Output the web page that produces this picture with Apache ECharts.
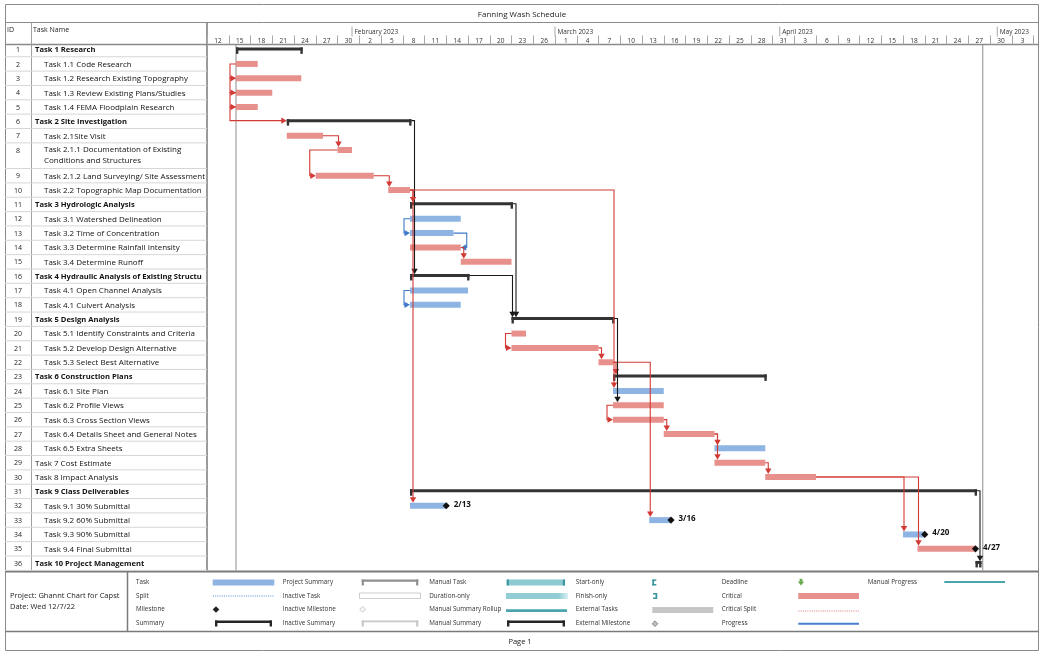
<!DOCTYPE html>
<html><head><meta charset="utf-8">
<script src="https://cdn.jsdelivr.net/npm/echarts@6.0.0/dist/echarts.min.js"></script>
<style>html,body{margin:0;padding:0;background:#fff}#c{width:1044px;height:656px}</style>
</head><body><div id="c"></div>
<script>
// ---------------- DATA ----------------
const ids = [1,2,3,4,5,6,7,8,9,10,11,12,13,14,15,16,17,18,19,20,21,22,23,24,25,26,27,28,29,30,31,32,33,34,35,36];
const taskNames = [
  'Task 1 Research','Task 1.1 Code Research','Task 1.2 Research Existing Topography',
  'Task 1.3 Review Existing Plans/Studies','Task 1.4 FEMA Floodplain Research',
  'Task 2 Site Investigation','Task 2.1Site Visit',
  'Task 2.1.1 Documentation of Existing Conditions and Structures',
  'Task 2.1.2 Land Surveying/ Site Assessment','Task 2.2 Topographic Map Documentation',
  'Task 3 Hydrologic Analysis','Task 3.1 Watershed Delineation','Task 3.2 Time of Concentration',
  'Task 3.3 Determine Rainfall Intensity','Task 3.4 Determine Runoff',
  'Task 4 Hydraulic Analysis of Existing Structures','Task 4.1 Open Channel Analysis','Task 4.1 Culvert Analysis',
  'Task 5 Design Analysis','Task 5.1 Identify Constraints and Criteria','Task 5.2 Develop Design Alternative',
  'Task 5.3 Select Best Alternative','Task 6 Construction Plans','Task 6.1 Site Plan','Task 6.2 Profile Views',
  'Task 6.3 Cross Section Views','Task 6.4 Details Sheet and General Notes','Task 6.5 Extra Sheets',
  'Task 7 Cost Estimate','Task 8 Impact Analysis','Task 9 Class Deliverables','Task 9.1 30% Submittal',
  'Task 9.2 60% Submittal','Task 9.3 90% Submittal','Task 9.4 Final Submittal','Task 10 Project Management'
];
const outlineLevels = [1,2,2,2,2,1,2,2,2,2,1,2,2,2,2,1,2,2,1,2,2,2,1,2,2,2,2,2,1,1,1,2,2,2,2,1];
// S = summary, C = critical task, T = task
const taskTypes = ['S','C','C','C','C','S','C','C','C','C','S','T','T','C','C','S','T','T','S','C','C','C','S','T','C','C','C','T','C','C','S','T','T','T','C','S'];
const taskStarts = ['2023-01-16','2023-01-16','2023-01-16','2023-01-16','2023-01-16','2023-01-23','2023-01-23','2023-01-30','2023-01-27','2023-02-06',
  '2023-02-09','2023-02-09','2023-02-09','2023-02-09','2023-02-16','2023-02-09','2023-02-09','2023-02-09','2023-02-23','2023-02-23',
  '2023-02-23','2023-03-07','2023-03-09','2023-03-09','2023-03-09','2023-03-09','2023-03-16','2023-03-23','2023-03-23','2023-03-30',
  '2023-02-09','2023-02-09','2023-03-14','2023-04-18','2023-04-20','2023-04-28'];
const taskEnds = ['2023-01-25','2023-01-19','2023-01-25','2023-01-21','2023-01-19','2023-02-09','2023-01-28','2023-02-01','2023-02-04','2023-02-09',
  '2023-02-23','2023-02-16','2023-02-15','2023-02-16','2023-02-23','2023-02-17','2023-02-17','2023-02-16','2023-03-09','2023-02-25',
  '2023-03-07','2023-03-09','2023-03-30','2023-03-16','2023-03-16','2023-03-16','2023-03-23','2023-03-30','2023-03-30','2023-04-06',
  '2023-04-28','2023-02-14','2023-03-17','2023-04-21','2023-04-28','2023-04-28'];
const milestoneLabels = ['','','','','','','','','','','','','','','','','','','','','','','','','','','','','','','','2/13','3/16','4/20','4/27',''];
// [predecessor ID, successor ID, link type]
const links = [
  [2,3,'SS'],[3,4,'SS'],[4,5,'SS'],[5,6,'SS'],
  [7,8,'FS'],[8,9,'SS'],[9,10,'FS'],
  [6,16,'FS'],[10,11,'FS'],[10,32,'FS'],[10,24,'FS'],
  [12,13,'SS'],[13,14,'FF'],[14,15,'FS'],[17,18,'SS'],
  [11,19,'FS'],[16,19,'FS'],[20,21,'SS'],[21,22,'FS'],
  [22,23,'FS'],[22,33,'FS'],[19,25,'FS'],
  [25,26,'SS'],[26,27,'FS'],[27,28,'FS'],[27,29,'FS'],[29,30,'FS'],
  [30,34,'FS'],[30,35,'FS'],[31,36,'FS']
];
const dayLabels = ['12','15','18','21','24','27','30','2','5','8','11','14','17','20','23','26','1','4','7','10','13','16','19','22','25','28','31','3','6','9','12','15','18','21','24','27','30','3'];
const monthLabels = ['February 2023','March 2023','April 2023','May 2023'];
const monthStarts = ['2023-02-01','2023-03-01','2023-04-01','2023-05-01'];
const projectLines = ['2023-01-16','2023-04-29'];
const chartTitle = 'Fanning Wash Schedule';

// ---------------- LAYOUT ----------------
const FONT = '"Open Sans", "Noto Sans", sans-serif';
const CRIT = '#e8908c', TASKBLUE = '#8db4e2', SUMC = '#333333';
const LINK_RED = '#d23a35', LINK_BLUE = '#3f79c9', LINK_BLACK = '#1a1a1a';
const GRID_TOP = 42.4, ROW_PX = 14.35, TALL_ROW = 8, TALL = 1.79;
const Y_MAX = 35 + TALL;
const TL_LEFT = 207, TL_W = 831, PX_PER_DAY = 7.25;
const X_MAX = TL_W / PX_PER_DAY;
const T0 = Date.UTC(2023, 0, 12);
function toT(s){ const p = s.split('-').map(Number); return (Date.UTC(p[0], p[1]-1, p[2]) - T0) / 864e5; }
function rowTop(n){ return (n - 1) + (n > TALL_ROW ? TALL - 1 : 0); }
function rowHeight(n){ return n === TALL_ROW ? TALL : 1; }

function geom(api, n){
  const i = n - 1, yu = rowTop(n) + 0.5;
  const s = api.coord([toT(taskStarts[i]), yu]);
  const e = api.coord([toT(taskEnds[i]), yu]);
  const sum = taskTypes[i] === 'S';
  const x1 = sum ? Math.max(e[0] + 1.5, s[0] + 6) : e[0];
  return {x0: s[0], x1: x1, y: sum ? s[1] - 0.7 : s[1], top: sum ? s[1] - 2 : s[1] - 3, sum: sum};
}

// ---------------- GRAPHIC (frame + legend) ----------------
const G = [];
function gl(x1,y1,x2,y2,stroke,w,dash){G.push({type:'line',silent:true,shape:{x1,y1,x2,y2},style:{stroke,lineWidth:w||1,lineDash:dash||null}});}
function gr(x,y,w,h,fill,stroke){G.push({type:'rect',silent:true,shape:{x,y,width:w,height:h},style:{fill,stroke:stroke||null,lineWidth:stroke?1:0}});}
function gt(x,y,text,size,opts){G.push({type:'text',silent:true,x,y,style:Object.assign({text,fontSize:size,fontFamily:FONT,fill:'#222',align:'left',verticalAlign:'middle'},opts||{})});}
function gp(points,fill,stroke){G.push({type:'polygon',silent:true,shape:{points},style:{fill,stroke:stroke||null,lineWidth:1}});}
function bracket(x0,x1,y,color,barH,capH,capW){gr(x0,y,x1-x0,barH,color);gr(x0,y,capW,capH,color);gr(x1-capW,y,capW,capH,color);}
function diamond(x,y,r,fill,stroke){gp([[x,y-r],[x+r,y],[x,y+r],[x-r,y]],fill,stroke);}

// frame
gr(5.5,4.5,1033,646,'none','#8a8a8a');
gl(5.5,22.5,1038.5,22.5,'#8a8a8a',1);
gl(5.5,44.5,1038.5,44.5,'#8a8a8a',1.5);
gl(31.5,22.5,31.5,570.5,'#a0a0a0',1);
gl(207,22.5,207,570.5,'#7a7a7a',1.5);
gl(5.5,571.5,1038.5,571.5,'#7a7a7a',1.8);
gl(5.5,631.5,1038.5,631.5,'#7a7a7a',1.5);
gl(127.5,571.5,127.5,631.5,'#7a7a7a',1.5);
gt(522,14.5,chartTitle,8,{align:'center',fill:'#222'});
gt(7,30,'ID',7);
gt(33,30,'Task Name',7);
gt(10,596,'Project: Ghannt Chart for Capst',7.5);
gt(10,607,'Date: Wed 12/7/22',7.5);
gt(520,641.5,'Page 1',7.5,{align:'center'});
// legend
const LR = [582.5,596,609.7,623.7];
const legendCols = [
  [136,['Task','Split','Milestone','Summary']],
  [282.7,['Project Summary','Inactive Task','Inactive Milestone','Inactive Summary']],
  [429.3,['Manual Task','Duration-only','Manual Summary Rollup','Manual Summary']],
  [575.7,['Start-only','Finish-only','External Tasks','External Milestone']],
  [721.7,['Deadline','Critical','Critical Split','Progress']],
  [867.7,['Manual Progress']]
];
legendCols.forEach(c => c[1].forEach((t,k) => gt(c[0],LR[k],t,6.3,{fill:'#333'})));
gr(212.7,579.5,61.6,6,TASKBLUE);
gl(213,596,274,596,'#8db4e2',1.5,[1,1.2]);
diamond(216,609.5,3.3,'#222');
bracket(215,272,620.5,'#262626',2.4,6,2.4);
bracket(361.7,418.3,579.5,'#8f8f8f',2.2,6,2.2);
gr(359.5,593,61,5.5,'#fff','#cccccc');
diamond(362.7,609.3,3,'#f4f4f4','#d0d0d0');
bracket(361.7,418.3,620.5,'#c8c8c8',1.8,6,2.2);
gr(506.7,579.5,58.3,6,'#8ccad2');gr(506.7,579.5,2.2,6,'#3c97a2');gr(562.8,579.5,2.2,6,'#3c97a2');
G.push({type:'rect',silent:true,shape:{x:506,y:593,width:62,height:6},style:{fill:{type:'linear',x:0,y:0,x2:1,y2:0,colorStops:[{offset:0,color:'#93cdd4'},{offset:0.85,color:'#93cdd4'},{offset:1,color:'#dcf1f3'}]}}});
gr(506,609.3,61,2.8,'#4aa3ad');
bracket(507,565,620.5,'#262626',2.4,6,2.4);
gr(652.3,579.5,1.8,6,'#3c97a2');gr(652.3,579.5,4,1.5,'#3c97a2');gr(652.3,584,4,1.5,'#3c97a2');
gr(655.5,593,1.8,6,'#3c97a2');gr(653,593,4,1.5,'#3c97a2');gr(653,597.5,4,1.5,'#3c97a2');
gr(652.3,607,61,6,'#c6c6c6');
diamond(655,623.7,2.8,'#bdbdbd','#8a8a8a');
gr(799.6,578.8,2.8,3,'#6aa84f');gp([[797.8,581.6],[804.2,581.6],[801,585.4]],'#6aa84f');
gr(798.3,593,60.7,6,CRIT);
gl(798.5,611,859,611,'#eaa6a2',1.5,[1,1.2]);
gl(798.3,623.7,859,623.7,'#4a7fd0',2);
gl(944.3,582,1005,582,'#4aa3ad',2);

// ---------------- CHART ----------------
const chart = echarts.init(document.getElementById('c'));
const gridH = Y_MAX * ROW_PX;
chart.setOption({
  animation: false,
  backgroundColor: '#fff',
  grid: [
    {left: TL_LEFT, top: GRID_TOP, width: TL_W, height: gridH, containLabel: false, outerBoundsMode: 'none'},
    {left: 5, top: GRID_TOP, width: 202, height: gridH, containLabel: false, outerBoundsMode: 'none'}
  ],
  xAxis: [
    {gridIndex: 0, type: 'value', position: 'top', min: 0, max: X_MAX, interval: 3, offset: -2.1,
     axisLine: {show: false}, splitLine: {show: false},
     axisTick: {show: true, length: 9, lineStyle: {color: '#a8a8a8', width: 1}},
     axisLabel: {show: true, showMinLabel: true, showMaxLabel: false, margin: 3.2, verticalAlign: 'middle',
       fontSize: 6.5, fontFamily: FONT, color: '#333', padding: [0,0,0,3*PX_PER_DAY],
       formatter: v => { const k = Math.round(v/3); return Math.abs(v - 3*k) < 1e-6 ? (dayLabels[k] || '') : ''; }}},
    {gridIndex: 1, type: 'value', min: 0, max: 202, show: false}
  ],
  yAxis: [
    {gridIndex: 0, type: 'value', inverse: true, min: 0, max: Y_MAX, show: false},
    {gridIndex: 1, type: 'value', inverse: true, min: 0, max: Y_MAX, show: false}
  ],
  graphic: {elements: G},
  series: [
    { // month tier of the timescale
      type: 'custom', xAxisIndex: 0, yAxisIndex: 0, silent: true, clip: false, z: 2,
      data: monthStarts.map(s => [toT(s)]),
      renderItem(params, api){
        const x = api.coord([api.value(0), 0])[0];
        return {type: 'group', children: [
          {type: 'line', shape: {x1: x, y1: 26.5, x2: x, y2: 36.5}, style: {stroke: '#a8a8a8', lineWidth: 1}},
          {type: 'text', x: x + 2.5, y: 32, style: {text: monthLabels[params.dataIndex], fontSize: 6.5, fontFamily: FONT, fill: '#333', align: 'left', verticalAlign: 'middle'}}
        ]};
      }
    },
    { // project start / finish lines
      type: 'custom', xAxisIndex: 0, yAxisIndex: 0, silent: true, clip: false, z: 1,
      data: projectLines.map(s => [toT(s)]),
      renderItem(params, api){
        const a = api.coord([api.value(0), 0]), b = api.coord([api.value(0), Y_MAX]);
        return {type: 'line', shape: {x1: a[0], y1: a[1] + 2, x2: b[0], y2: b[1]}, style: {stroke: '#8c8c8c', lineWidth: 1}};
      }
    },
    { // task bars, summaries, milestones
      type: 'custom', xAxisIndex: 0, yAxisIndex: 0, silent: true, clip: false, z: 3,
      data: taskNames.map((_, i) => [toT(taskStarts[i]), toT(taskEnds[i]), i]),
      renderItem(params, api){
        const i = api.value(2), n = i + 1;
        const yu = rowTop(n) + 0.5;
        const p0 = api.coord([api.value(0), yu]), p1 = api.coord([api.value(1), yu]);
        const ch = [];
        if (taskTypes[i] === 'S') {
          const x0 = p0[0], x1 = Math.max(p1[0] + 1.5, p0[0] + 6), y = p0[1] - 2.2;
          ch.push({type: 'rect', shape: {x: x0, y: y, width: x1 - x0, height: 3}, style: {fill: SUMC}});
          ch.push({type: 'rect', shape: {x: x0, y: y, width: 2.4, height: 6.5}, style: {fill: SUMC}});
          ch.push({type: 'rect', shape: {x: x1 - 2.4, y: y, width: 2.4, height: 6.5}, style: {fill: SUMC}});
        } else {
          ch.push({type: 'rect', shape: {x: p0[0], y: p0[1] - 3, width: p1[0] - p0[0], height: 6}, style: {fill: taskTypes[i] === 'C' ? CRIT : TASKBLUE}});
        }
        if (milestoneLabels[i]) {
          const x = p1[0], y = p1[1], r = 3.6;
          ch.push({type: 'polygon', shape: {points: [[x, y - r], [x + r, y], [x, y + r], [x - r, y]]}, style: {fill: '#111'}});
          ch.push({type: 'text', x: x + 7.5, y: y - 1.5, style: {text: milestoneLabels[i], fontSize: 8, fontWeight: 'bold', fontFamily: FONT, fill: '#111', align: 'left', verticalAlign: 'middle'}});
        }
        return {type: 'group', children: ch};
      }
    },
    { // dependency links
      type: 'custom', xAxisIndex: 0, yAxisIndex: 0, silent: true, clip: false, z: 4,
      data: links.map((l, k) => [k]),
      renderItem(params, api){
        const L = links[api.value(0)];
        const a = geom(api, L[0]), b = geom(api, L[1]);
        const tp = taskTypes[L[0] - 1];
        const col = tp === 'S' ? LINK_BLACK : (tp === 'C' ? LINK_RED : LINK_BLUE);
        let pts, arrow;
        if (L[2] === 'FS') {
          const vx = (b.x0 > a.x1 + 4) ? b.x0 + 1 : Math.max(a.x1, b.x0) + 3;
          pts = [[a.x1, a.y], [vx, a.y], [vx, b.top - 4]];
          arrow = [[vx - 3.2, b.top - 5.5], [vx + 3.2, b.top - 5.5], [vx, b.top]];
        } else if (L[2] === 'SS') {
          const x0 = Math.min(a.x0, b.x0) - 6;
          pts = [[a.x0, a.y], [x0, a.y], [x0, b.y], [b.x0 - 4, b.y]];
          arrow = [[b.x0 - 5.5, b.y - 3.2], [b.x0 - 5.5, b.y + 3.2], [b.x0, b.y]];
        } else {
          const x1 = Math.max(a.x1, b.x1) + 6;
          pts = [[a.x1, a.y], [x1, a.y], [x1, b.y], [b.x1 + 4, b.y]];
          arrow = [[b.x1 + 5.5, b.y - 3.2], [b.x1 + 5.5, b.y + 3.2], [b.x1, b.y]];
        }
        return {type: 'group', children: [
          {type: 'polyline', shape: {points: pts}, style: {stroke: col, lineWidth: 1.1, fill: null}},
          {type: 'polygon', shape: {points: arrow}, style: {fill: col}}
        ]};
      }
    },
    { // left table: IDs and task names
      type: 'custom', xAxisIndex: 1, yAxisIndex: 1, silent: true, clip: false, z: 3,
      data: ids.map((id, i) => [i]),
      renderItem(params, api){
        const i = api.value(0), n = i + 1;
        const top = rowTop(n), h = rowHeight(n);
        const pt = api.coord([0, top]), pb = api.coord([202, top + h]);
        const ty = api.coord([0, top + 0.5])[1] + 0.6;
        const idX = api.coord([13, 0])[0];
        const nx = api.coord([outlineLevels[i] === 1 ? 30 : 39, 0])[0];
        const tall = h > 1;
        const bold = taskTypes[i] === 'S';
        const nameStyle = {text: taskNames[i], fontSize: bold ? 7.6 : 8, fontFamily: FONT, fill: '#111',
          fontWeight: bold ? 'bold' : 'normal', align: 'left',
          verticalAlign: tall ? 'top' : 'middle', width: pb[0] - nx - 0.5,
          overflow: tall ? 'break' : 'truncate', ellipsis: '', lineHeight: tall ? 11.3 : 10};
        return {type: 'group', children: [
          {type: 'line', shape: {x1: pt[0], y1: pb[1], x2: pb[0], y2: pb[1]}, style: {stroke: '#d6d6d6', lineWidth: 1}},
          {type: 'text', x: idX, y: ty, style: {text: String(ids[i]), fontSize: 7, fontFamily: FONT, fill: '#222', align: 'center', verticalAlign: 'middle'}},
          {type: 'text', x: nx, y: tall ? pt[1] + 1 : ty, style: nameStyle}
        ]};
      }
    }
  ]
});
</script></body></html>
